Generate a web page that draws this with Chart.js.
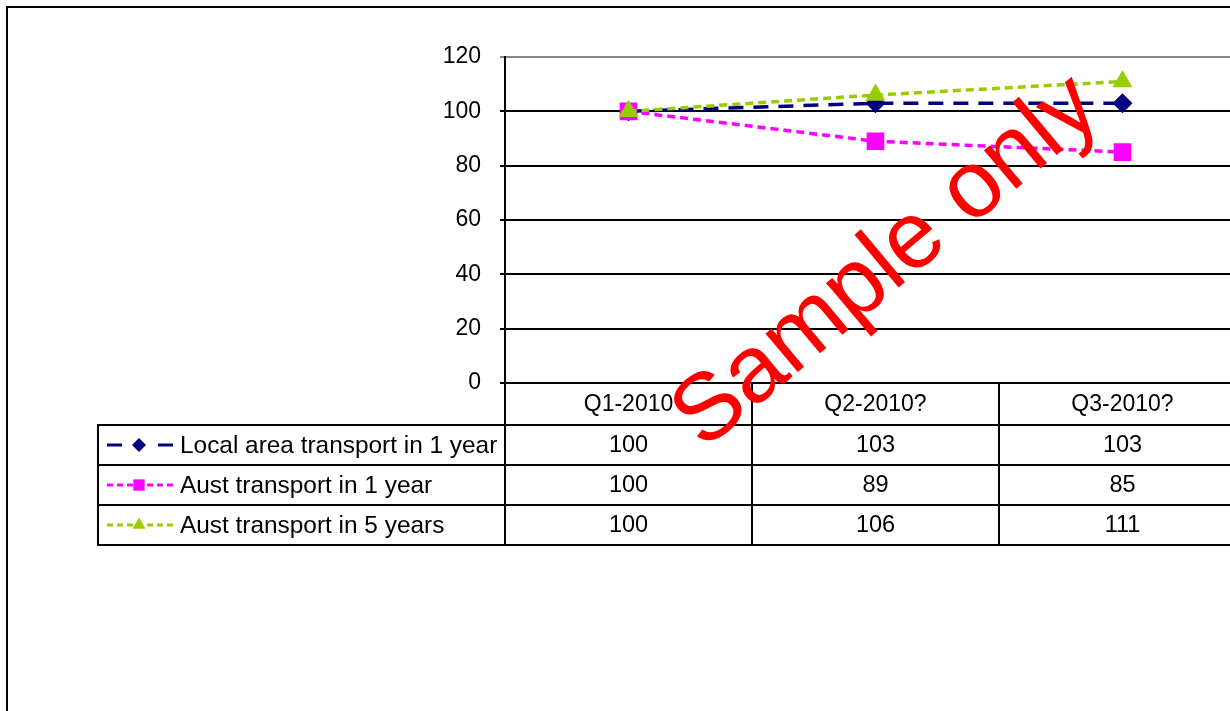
<!DOCTYPE html>
<html>
<head>
<meta charset="utf-8">
<title>Transport outlook</title>
<script src="https://cdn.jsdelivr.net/npm/chart.js@4.4.0/dist/chart.umd.min.js"></script>
<style>
  html, body { margin: 0; padding: 0; background: #fff; overflow: hidden; }
  .chart-frame { position: absolute; left: 6px; top: 6px; width: 1400px; height: 900px; border: 2px solid #000; }
  .chart-canvas { position: absolute; left: 0; top: 0; }
</style>
</head>
<body>
<div class="chart-frame"></div>
<canvas class="chart-canvas" width="1260" height="711"></canvas>
<script>
const categories = ["Q1-2010", "Q2-2010?", "Q3-2010?"];
const seriesNames = [
  "Local area transport in 1 year",
  "Aust transport in 1 year",
  "Aust transport in 5 years"
];
const localOneYear = [100, 103, 103];
const austOneYear = [100, 89, 85];
const austFiveYears = [100, 106, 111];
const yMin = 0;
const yMax = 120;
const yStep = 20;
const watermarkText = "Sample only";

const FONT = "'Liberation Sans', Arial, sans-serif";
const canvas = document.querySelector(".chart-canvas");

// legend keys use shorter dashes / smaller markers than the plot
const legendKeys = [
  { dash: [15, 36], radius: 7 },
  { dash: [6, 4], radius: 8 },
  { dash: [6, 4], radius: 7.5 }
];

function drawMarker(ctx, ds, radius, x, y) {
  ctx.fillStyle = ds.backgroundColor;
  Chart.helpers.drawPoint(ctx, {
    pointStyle: ds.pointStyle,
    radius: radius,
    rotation: 0,
    borderWidth: 0
  }, x, y);
}

const dataTablePlugin = {
  id: "dataTable",
  afterDraw(chart) {
    const ctx = chart.ctx;
    const area = chart.chartArea;
    const xScale = chart.scales.x;
    const datasets = chart.data.datasets;
    const colWidth = (area.right - area.left) / categories.length;
    const headerTop = area.bottom;
    const headerBottom = headerTop + 42;
    const rowHeight = 40;
    const tableLeft = 98;
    const tableBottom = headerBottom + rowHeight * datasets.length;

    ctx.save();
    ctx.strokeStyle = "#000";
    ctx.lineWidth = 2;
    ctx.beginPath();
    for (let i = 0; i <= categories.length; i++) {
      const x = Math.round(area.left + i * colWidth);
      ctx.moveTo(x, headerTop);
      ctx.lineTo(x, tableBottom);
    }
    ctx.moveTo(tableLeft, headerBottom);
    ctx.lineTo(tableLeft, tableBottom);
    for (let r = 0; r <= datasets.length; r++) {
      const y = headerBottom + r * rowHeight;
      ctx.moveTo(tableLeft - 1, y);
      ctx.lineTo(area.right, y);
    }
    ctx.stroke();

    ctx.fillStyle = "#000";
    ctx.font = "23px " + FONT;
    ctx.textAlign = "center";
    ctx.textBaseline = "middle";
    categories.forEach(function(cat, i) {
      ctx.fillText(cat, xScale.getPixelForValue(i), (headerTop + headerBottom) / 2 + 1);
    });

    datasets.forEach(function(ds, r) {
      const midY = headerBottom + r * rowHeight + rowHeight / 2 + 1;
      ctx.fillStyle = "#000";
      ctx.font = "23.5px " + FONT;
      ctx.textAlign = "center";
      ds.data.forEach(function(v, i) {
        ctx.fillText(String(v), xScale.getPixelForValue(i), midY);
      });

      // legend key
      const key = legendKeys[r];
      ctx.save();
      ctx.strokeStyle = ds.borderColor;
      ctx.lineWidth = 3;
      ctx.setLineDash(key.dash);
      ctx.beginPath();
      ctx.moveTo(107, midY - 1);
      ctx.lineTo(173, midY - 1);
      ctx.stroke();
      ctx.restore();
      drawMarker(ctx, ds, key.radius, 139, midY - 1);

      ctx.fillStyle = "#000";
      ctx.font = "24.4px " + FONT;
      ctx.textAlign = "left";
      ctx.fillText(ds.label, 180, midY);
    });

    // watermark
    ctx.save();
    ctx.translate(904, 283);
    ctx.rotate(-40 * Math.PI / 180);
    ctx.fillStyle = "#ff0000";
    ctx.font = "95px " + FONT;
    ctx.textAlign = "center";
    ctx.textBaseline = "alphabetic";
    ctx.fillText(watermarkText, 0, 0);
    ctx.restore();

    ctx.restore();
  }
};

const chart = new Chart(canvas.getContext("2d"), {
  type: "line",
  data: {
    labels: categories,
    datasets: [
      {
        label: seriesNames[0],
        data: localOneYear,
        borderColor: "#000080",
        backgroundColor: "#000080",
        borderWidth: 3.5,
        borderDash: [15, 10],
        pointStyle: "rectRot",
        pointRadius: 10,
        pointBorderWidth: 0,
        order: 3
      },
      {
        label: seriesNames[1],
        data: austOneYear,
        borderColor: "#ff00ff",
        backgroundColor: "#ff00ff",
        borderWidth: 3.5,
        borderDash: [8, 5],
        pointStyle: "rect",
        pointRadius: 12.5,
        pointBorderWidth: 0,
        order: 2
      },
      {
        label: seriesNames[2],
        data: austFiveYears,
        borderColor: "#99cc00",
        backgroundColor: "#99cc00",
        borderWidth: 3.5,
        borderDash: [8, 5],
        pointStyle: "triangle",
        pointRadius: 11.5,
        pointBorderWidth: 0,
        order: 1
      }
    ]
  },
  options: {
    responsive: false,
    devicePixelRatio: 1,
    animation: false,
    layout: { padding: { left: 0, top: 57, right: 14, bottom: 328 } },
    plugins: {
      legend: { display: false },
      tooltip: { enabled: false }
    },
    scales: {
      x: {
        display: false,
        offset: true
      },
      y: {
        min: yMin,
        max: yMax,
        ticks: {
          stepSize: yStep,
          color: "#000",
          padding: 19,
          font: { family: FONT, size: 23 }
        },
        grid: {
          color: function(c) {
            return c.tick && c.tick.value === yMax ? "#888" : "#000";
          },
          lineWidth: 2,
          tickLength: 5,
          drawTicks: true
        },
        border: { display: true, color: "#000", width: 2 },
        afterFit: function(scale) {
          scale.width = 505;
        }
      }
    }
  },
  plugins: [dataTablePlugin]
});
</script>
</body>
</html>
